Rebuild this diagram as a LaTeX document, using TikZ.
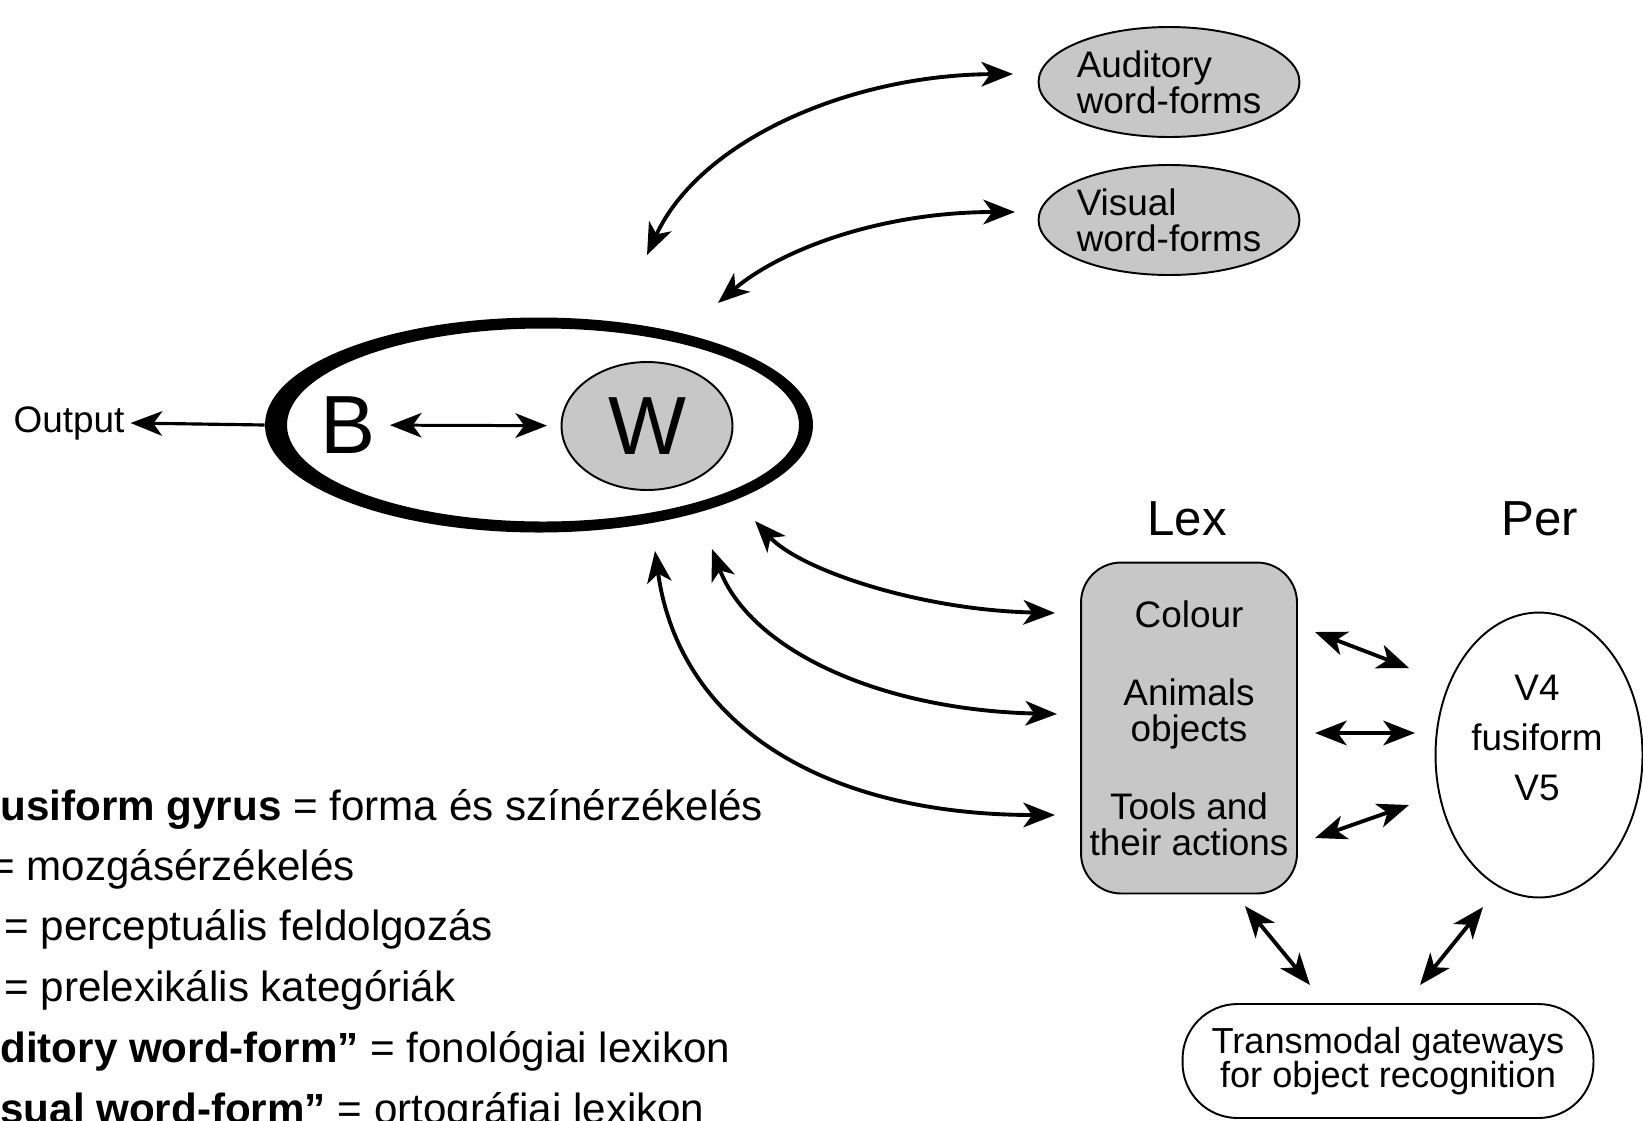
\documentclass[tikz,border=0pt]{standalone}
\usepackage{fontspec}
\setmainfont{Liberation Sans}
\usetikzlibrary{shapes.geometric,arrows.meta,positioning}

\begin{document}
\begin{tikzpicture}[x=0.02cm,y=-0.02cm,
  >={Stealth[length=18pt,width=14pt,inset=5pt]},
  dotted fill/.style={draw,line width=1.1pt,fill=black!22},
  twoway/.style={<->,line width=2.2pt},
  txt/.style={font=\fontsize{21}{20.5}\selectfont},
  legend/.style={anchor=west,inner sep=0pt,font=\fontsize{24}{28}\selectfont}]
\useasboundingbox (0,0) rectangle (1643,1120);

% word-form stores
\node[dotted fill,ellipse,inner sep=0pt,minimum width=5cm,minimum height=2.2cm,align=left,txt] (aud) at (1169,82) {Auditory\\word-forms};
\node[dotted fill,ellipse,inner sep=0pt,minimum width=5cm,minimum height=2.2cm,align=left,txt] (vis) at (1169,220) {Visual\\word-forms};

% B and W inside the thick ellipse
\fill[even odd rule] (539,425) ellipse [x radius=274, y radius=107.5]
                     (543,425) ellipse [x radius=256, y radius=96.5];
\node[ellipse,minimum width=10.96cm,minimum height=4.3cm] (main) at (539,425) {};
\node[inner sep=2pt,font=\fontsize{47}{50}\selectfont] (B) at (348,425) {B};
\node[dotted fill,ellipse,inner sep=0pt,minimum width=3.42cm,minimum height=2.56cm,font=\fontsize{47}{50}\selectfont] (W) at (647,426) {W};
\node[txt] (out) at (69,423) {Output};
\draw[->,line width=1.8pt] (main.west) -- (out.east);
\draw[<->,line width=1.7pt,shorten <=6pt,shorten >=7.7pt] (B) -- (W);

% Lex and Per
\node[font=\fontsize{28}{30}\selectfont] (lexlabel) at (1187,519) {Lex};
\node[font=\fontsize{28}{30}\selectfont] (perlabel) at (1540,519) {Per};
\node[dotted fill,rounded corners=0.8cm,inner sep=0pt,minimum width=4.32cm,minimum height=6.62cm,align=center,txt] (lex) at (1189,728)
  {Colour\\[23.8pt]Animals\\objects\\[23.8pt]Tools and\\their actions};
\node[draw,line width=1.1pt,ellipse,minimum width=4.14cm,minimum height=5.7cm] (per) at (1539,755) {};
\node[align=center,font=\fontsize{21}{28.3}\selectfont] (pertext) at (1537,738) {V4\\fusiform\\V5};
\node[draw,line width=1.1pt,rounded corners=1.1cm,inner sep=0pt,minimum width=8.22cm,minimum height=2.28cm,align=center,font=\fontsize{20.6}{19.3}\selectfont] (gate) at (1388,1061)
  {Transmodal gateways\\for object recognition};

% arrow ends
\coordinate (audW) at (647,255);  \coordinate (audE) at (1013,74);
\coordinate (visW) at (718,303);  \coordinate (visE) at (1015,212);
\coordinate (colW) at (755,521);  \coordinate (colE) at (1055,613);
\coordinate (aniW) at (712,549);  \coordinate (aniE) at (1057,714);
\coordinate (tooW) at (655,551);  \coordinate (tooE) at (1055,815);

\draw[twoway] (audW) .. controls (700,140) and (850,75) .. (audE);
\draw[twoway] (visW) .. controls (780,250) and (880,212) .. (visE);
\draw[twoway] (colW) .. controls (800,570) and (920,610) .. (colE);
\draw[twoway] (aniW) .. controls (750,650) and (880,710) .. (aniE);
\draw[twoway] (tooW) .. controls (680,730) and (830,815) .. (tooE);

% Lex <-> Per <-> gateways
\coordinate (lp1a) at (1315,632); \coordinate (lp1b) at (1409,668);
\coordinate (lp2a) at (1315,733); \coordinate (lp2b) at (1415,733);
\coordinate (lp3a) at (1315,838); \coordinate (lp3b) at (1409,805);
\coordinate (lga) at (1245,906);  \coordinate (lgb) at (1310,985);
\coordinate (pga) at (1483,907);  \coordinate (pgb) at (1420,985);
\draw[twoway] (lp1a) -- (lp1b);
\draw[twoway] (lp2a) -- (lp2b);
\draw[twoway] (lp3a) -- (lp3b);
\draw[twoway] (lga) -- (lgb);
\draw[twoway] (pga) -- (pgb);

% legend (cut at the left and bottom)
\node[legend] (leg1) at (0,809) {\textbf{usiform gyrus} = forma és színérzékelés};
\node[legend] (leg2) at (-10,869) {= mozgásérzékelés};
\node[legend] (leg3) at (4,929) {= perceptuális feldolgozás};
\node[legend] (leg4) at (4,990) {= prelexikális kategóriák};
\node[legend] (leg5) at (0,1051) {\textbf{ditory word-form”} = fonológiai lexikon};
\node[legend] (leg6) at (0,1112) {\textbf{sual word-form”} = ortográfiai lexikon};
\end{tikzpicture}
\end{document}
